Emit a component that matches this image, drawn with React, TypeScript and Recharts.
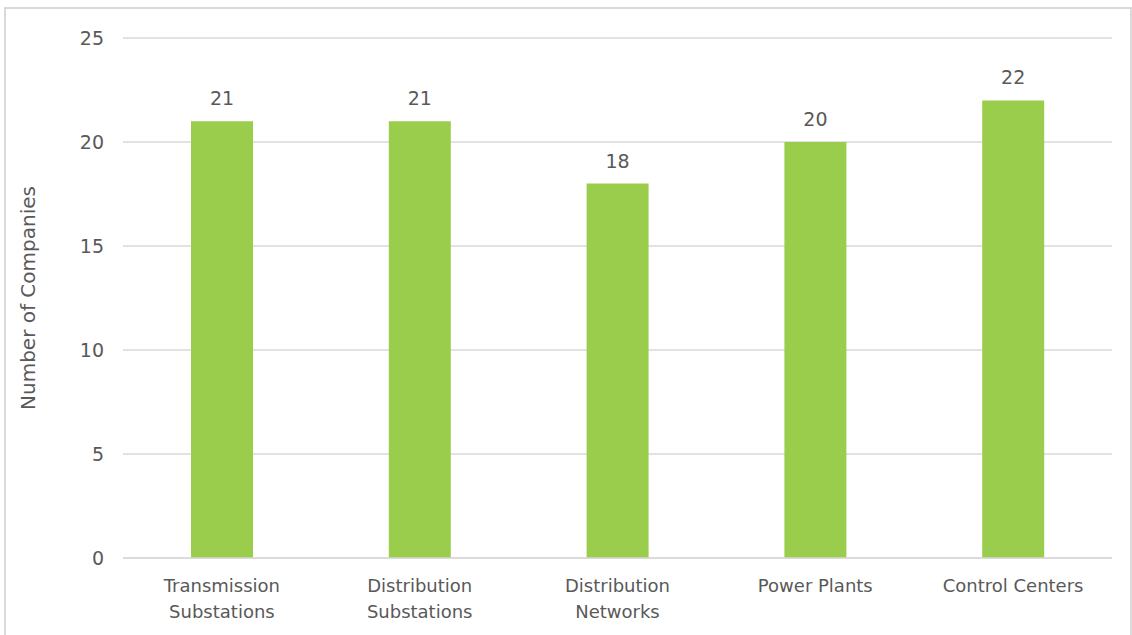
import React from 'react';
import { BarChart, Bar, XAxis, YAxis, CartesianGrid, LabelList } from 'recharts';

const categories = ['Transmission Substations', 'Distribution Substations', 'Distribution Networks', 'Power Plants', 'Control Centers'];
const tickLines = [
  ['Transmission', 'Substations'],
  ['Distribution', 'Substations'],
  ['Distribution', 'Networks'],
  ['Power Plants'],
  ['Control Centers'],
];
const companies = [21, 21, 18, 20, 22];
const yTicks = [0, 5, 10, 15, 20, 25];

const data = categories.map((name, i) => ({ name, value: companies[i] }));

const FONT = '"DejaVu Sans", sans-serif';
const TEXT = '#595959';

const CategoryTick = (props: any) => {
  const { x, y, index } = props;
  const lines = tickLines[index] || [];
  return (
    <text x={x} y={y} textAnchor="middle" fill={TEXT} fontSize={18} fontFamily={FONT}>
      {lines.map((w: string, i: number) => (
        <tspan key={i} x={x} dy={i === 0 ? 32 : 26}>{w}</tspan>
      ))}
    </text>
  );
};

export default function App() {
  return (
    <div style={{ position: 'absolute', left: 4, top: 7, width: 1124, height: 626, border: '2px solid #D9D9D9', background: '#fff' }}>
      <BarChart width={1124} height={626} data={data} margin={{ top: 29, right: 18, left: 0, bottom: 0 }}>
        <CartesianGrid vertical={false} stroke="#D9D9D9" strokeWidth={1.5} />
        <XAxis dataKey="name" height={77} axisLine={{ stroke: '#D9D9D9', strokeWidth: 1.5 }} tickLine={false} tickSize={0} tick={<CategoryTick />} interval={0} />
        <YAxis
          width={117}
          domain={[0, 25]}
          ticks={yTicks}
          axisLine={false}
          tickLine={false}
          tickSize={0}
          tickMargin={19}
          tick={{ fill: TEXT, fontSize: 19, fontFamily: FONT }}
          label={{ value: 'Number of Companies', angle: -90, position: 'insideLeft', offset: 22, style: { textAnchor: 'middle', fill: TEXT, fontSize: 20, fontFamily: FONT } }}
        />
        <Bar dataKey="value" fill="#9ACD4C" barSize={62} isAnimationActive={false}>
          <LabelList dataKey="value" position="top" offset={16} fill={TEXT} fontSize={19} fontFamily={FONT} />
        </Bar>
      </BarChart>
    </div>
  );
}
